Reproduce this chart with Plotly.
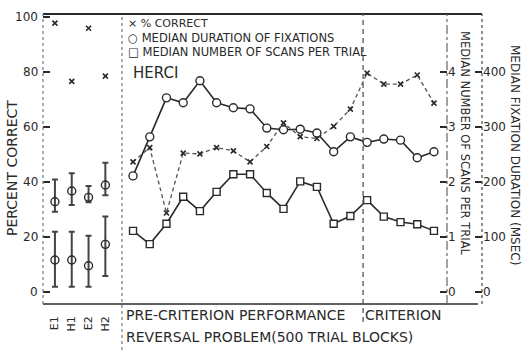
import plotly.graph_objects as go

# ---------------- data ----------------
left_cats = ["E1", "H1", "E2", "H2"]
left_pct_correct = [97.8, 76.6, 95.9, 78.5]
left_upper_mid = [32.8, 36.7, 34.4, 38.9]
left_upper_hi = [40.9, 43.2, 38.5, 47.0]
left_upper_lo = [29.2, 31.6, 32.6, 35.2]
left_lower_mid = [11.6, 11.6, 9.5, 17.3]
left_lower_hi = [21.9, 21.9, 20.4, 27.4]
left_lower_lo = [1.9, 1.9, 1.9, 5.8]

blocks = list(range(1, 20))
pct_correct = [47.3, 52.5, 28.7, 50.5, 50.2, 52.5, 51.3, 47.3, 52.9, 61.5,
               56.5, 55.8, 60.2, 66.5, 79.6, 75.6, 75.6, 78.9, 68.7]
fix_duration = [211, 282, 353, 344, 384, 344, 335, 333, 298, 295,
                296, 289, 255, 282, 272, 278, 276, 244, 255]
scans_per_trial = [1.11, 0.87, 1.24, 1.73, 1.47, 1.82, 2.14, 2.14, 1.80, 1.51,
                   2.01, 1.91, 1.24, 1.38, 1.67, 1.37, 1.27, 1.23, 1.11]
criterion_start = 14.76

pct_ticks = [0, 20, 40, 60, 80, 100]
scan_ticks = [0, 1, 2, 3, 4]
dur_ticks = [0, 100, 200, 300, 400]

FONT = "DejaVu Sans"
INK = "#2a2a2a"

fig = go.Figure()

# left panel
fig.add_trace(go.Scatter(
    x=left_cats, y=left_pct_correct, xaxis="x2", yaxis="y", mode="markers",
    marker=dict(symbol="x-thin", size=5, line=dict(width=1.6, color=INK)),
    showlegend=False))
for mid, hi, lo in [(left_upper_mid, left_upper_hi, left_upper_lo),
                    (left_lower_mid, left_lower_hi, left_lower_lo)]:
    fig.add_trace(go.Scatter(
        x=left_cats, y=mid, xaxis="x2", yaxis="y", mode="markers",
        marker=dict(symbol="circle-open", size=8, color=INK, line=dict(width=1.4)),
        error_y=dict(type="data", symmetric=False,
                     array=[h - m for h, m in zip(hi, mid)],
                     arrayminus=[m - l for m, l in zip(mid, lo)],
                     thickness=2, width=3, color="#444"),
        showlegend=False))

# main panel
fig.add_trace(go.Scatter(
    x=blocks, y=pct_correct, xaxis="x", yaxis="y", mode="lines+markers",
    line=dict(color="#555", width=1.3, dash="4px,3px"),
    marker=dict(symbol="x-thin", size=5, line=dict(width=1.6, color=INK)),
    showlegend=False))
fig.add_trace(go.Scatter(
    x=blocks, y=fix_duration, xaxis="x", yaxis="y3", mode="lines+markers",
    line=dict(color=INK, width=1.6),
    marker=dict(symbol="circle", size=8, color="white", line=dict(width=1.4, color=INK)),
    showlegend=False))
fig.add_trace(go.Scatter(
    x=blocks, y=scans_per_trial, xaxis="x", yaxis="y2", mode="lines+markers",
    line=dict(color=INK, width=1.6),
    marker=dict(symbol="square", size=7, color="white", line=dict(width=1.4, color=INK)),
    showlegend=False))

L, R, T, B = 43, 43, 14, 46
W, H = 525, 350
pw, ph = W - L - R, H - T - B
def px(xp):
    return (xp - L) / pw
def py(yp):
    return (H - B - yp) / ph

split = px(122)
main_end = px(447)

tickfont = dict(family=FONT, size=12, color=INK)
fig.update_layout(
    width=W, height=H, margin=dict(l=L, r=R, t=T, b=B, autoexpand=False),
    paper_bgcolor="white", plot_bgcolor="white",
    font=dict(family=FONT, color=INK),
    xaxis=dict(domain=[split, main_end], range=[0.34, 19.78], showticklabels=False,
               ticks="", showgrid=False, zeroline=False, showline=False, automargin=False),
    xaxis2=dict(domain=[0, split], type="category", categoryarray=left_cats,
                range=[-0.71, 3.99], tickangle=-90, ticks="", showgrid=False,
                zeroline=False, showline=False, ticklabelstandoff=9, automargin=False,
                tickfont=dict(family=FONT, size=11, color=INK)),
    yaxis=dict(anchor="x2", range=[-4.4, 101.1], tickvals=pct_ticks, ticks="inside",
               ticklen=7, tickwidth=1.5, tickcolor=INK, showgrid=False,
               showticklabels=False,
               zeroline=False, showline=False, tickfont=tickfont, automargin=False),
    yaxis2=dict(anchor="x", overlaying="y", side="right", range=[-0.22, 5.055],
                tickvals=scan_ticks, ticks="inside", ticklen=7, tickwidth=1.5,
                tickcolor=INK, showgrid=False, zeroline=False, showline=False,
                tickfont=tickfont, automargin=False),
    yaxis3=dict(anchor="free", overlaying="y", side="right", position=1.0,
                range=[-22, 505.5], tickvals=dur_ticks, ticks="inside", ticklen=7,
                tickwidth=1.5, tickcolor=INK, showgrid=False, zeroline=False,
                showline=False, tickfont=tickfont, automargin=False),
)

shapes = [
    dict(type="line", xref="paper", yref="paper", x0=0, x1=1, y0=1, y1=1,
         line=dict(color=INK, width=1.8)),
    dict(type="line", xref="paper", yref="paper", x0=0, x1=px(478), y0=0, y1=0,
         line=dict(color=INK, width=1.6)),
    dict(type="line", xref="paper", yref="paper", x0=0, x1=0, y0=0, y1=1,
         line=dict(color="#777", width=1.2, dash="dot")),
    dict(type="line", xref="paper", yref="paper", x0=split, x1=split, y0=py(350), y1=1,
         line=dict(color="#777", width=1.2, dash="3px,3px")),
    dict(type="line", xref="x", yref="paper", x0=criterion_start, x1=criterion_start,
         y0=py(322), y1=1, line=dict(color="#555", width=1.3, dash="5px,4px")),
    dict(type="line", xref="paper", yref="paper", x0=main_end, x1=main_end, y0=0, y1=1,
         line=dict(color="#666", width=1.2, dash="dashdot")),
    dict(type="line", xref="paper", yref="paper", x0=1, x1=1, y0=0, y1=1,
         line=dict(color="#555", width=1.3, dash="dot")),
]
fig.update_layout(shapes=shapes)

# left axis tick labels placed close to the axis, as in the original
for v in pct_ticks:
    fig.add_annotation(text=str(v), x=px(39), xref="paper", y=v, yref="y",
                       showarrow=False, xanchor="right", yanchor="middle", borderpad=0,
                       font=tickfont)

def ann(text, x, y, size=10, angle=0, xanchor="left", yanchor="middle"):
    fig.add_annotation(text=text, x=x, y=y, xref="paper", yref="paper",
                       showarrow=False, textangle=angle, xanchor=xanchor,
                       yanchor=yanchor, borderpad=0,
                       font=dict(family=FONT, size=size, color=INK))

ann("× % CORRECT", px(127), py(24), size=11)
ann("○ MEDIAN DURATION OF FIXATIONS", px(127), py(38), size=11.5)
ann("□ MEDIAN NUMBER OF SCANS PER TRIAL", px(127), py(52), size=11.5)
ann("HERCI", px(132), py(73), size=15)
ann("PERCENT CORRECT", px(12), py(168), size=14, angle=-90, xanchor="center")
ann("MEDIAN NUMBER OF SCANS PER TRIAL", px(465), py(143), size=11.5, angle=90, xanchor="center")
ann("MEDIAN FIXATION DURATION (MSEC)", px(515), py(155), size=12, angle=90, xanchor="center")
ann("PRE-CRITERION PERFORMANCE", px(125), py(315), size=14)
ann("CRITERION", px(364), py(315), size=14)
ann("REVERSAL PROBLEM(500 TRIAL BLOCKS)", px(125), py(337), size=14)

fig.write_html("out.html", config={"displayModeBar": False},
               post_script="document.body.style.margin='0';document.body.style.padding='0';")
